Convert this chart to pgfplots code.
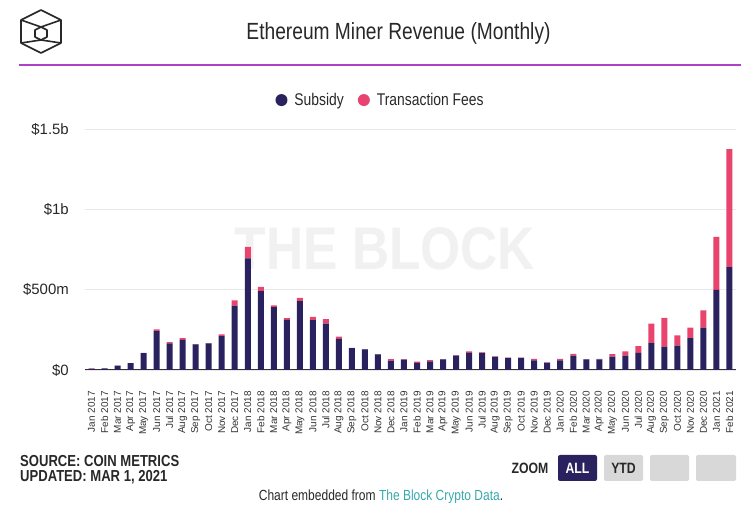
\documentclass[border=0pt]{standalone}
\usepackage{pgfplots}
\usepackage{pgfplotstable}
\pgfplotsset{compat=1.18}
\usepackage{graphicx}
\usepackage{fontspec}
\setmainfont{Liberation Sans}
\newfontfamily\cond[FakeStretch=0.82]{Liberation Sans}
\definecolor{sub}{RGB}{42,34,94}
\definecolor{fee}{RGB}{232,68,110}
\definecolor{gridc}{RGB}{232,232,232}
\definecolor{txt}{RGB}{40,40,40}
\definecolor{wm}{RGB}{241,241,241}
\definecolor{btn}{RGB}{216,216,216}
\definecolor{teal}{RGB}{56,168,170}
\definecolor{sep}{RGB}{176,64,200}

\pgfplotstableread{
x sub fee
0 9 0.5
1 10 0.5
2 27 0.5
3 43 0.5
4 105 1
5 242 11
6 166 8
7 188 11
8 159 2
9 166 2
10 211 11
11 400 33
12 694 72
13 491 26
14 391 11
15 312 11
16 428 21
17 310 21
18 288 29
19 194 13
20 136 2
21 128 2
22 97 2
23 58 10
24 64 4
25 45 7
26 54 8
27 66 2
28 90 3
29 106 10
30 107 3
31 83 2
32 75 2
33 75 2
34 60 10
35 46 2
36 60 10
37 89 12
38 66 2
39 66 3
40 84 15
41 89 27
42 106 43
43 168 120
44 145 180
45 151 64
46 199 64
47 263 108
48 498 330
49 641 734
}\data

\begin{document}
\begin{tikzpicture}[x=1bp,y=1bp]
\begin{axis}[
  name=ax,
  width=651bp, height=241bp, scale only axis,
  axis background/.style={fill=white, path picture={
    \node[text=wm, inner sep=0pt] at ([xshift=-25.5bp, yshift=0.5bp]path picture bounding box.center) {\resizebox{300bp}{42bp}{\bfseries THE BLOCK}};}},
  xmin=-0.5, xmax=49.5, ymin=0, ymax=1500,
  ybar stacked, bar width=6bp,
  axis x line*=bottom, axis y line*=left,
  y axis line style={draw=none},
  x axis line style={draw={rgb,255:red,51;green,51;blue,51}, line width=1bp},
  ymajorgrids, grid style={gridc, line width=0.8bp},
  major tick length=0pt,
  xtick={0,...,49},
  xticklabels={Jan 2017,Feb 2017,Mar 2017,Apr 2017,May 2017,Jun 2017,Jul 2017,Aug 2017,Sep 2017,Oct 2017,Nov 2017,Dec 2017,Jan 2018,Feb 2018,Mar 2018,Apr 2018,May 2018,Jun 2018,Jul 2018,Aug 2018,Sep 2018,Oct 2018,Nov 2018,Dec 2018,Jan 2019,Feb 2019,Mar 2019,Apr 2019,May 2019,Jun 2019,Jul 2019,Aug 2019,Sep 2019,Oct 2019,Nov 2019,Dec 2019,Jan 2020,Feb 2020,Mar 2020,Apr 2020,May 2020,Jun 2020,Jul 2020,Aug 2020,Sep 2020,Oct 2020,Nov 2020,Dec 2020,Jan 2021,Feb 2021},
  xticklabel style={rotate=90, anchor=east, inner sep=0pt, font=\fontsize{10}{12}\selectfont, text={rgb,255:red,51;green,51;blue,51}},
  xticklabel shift=21bp,
  ytick={0,500,1000,1500},
  yticklabels={\$0,\$500m,\$1b,\$1.5b},
  yticklabel style={anchor=east, inner sep=0pt, font=\fontsize{15}{17}\selectfont, text=txt},
  yticklabel shift=16bp,
  legend style={at={(0.454,1.12)}, anchor=center, draw=none, fill=none, legend columns=2,
    font=\cond\fontsize{17}{20}\selectfont, text=txt,
    /tikz/every even column/.append style={column sep=12bp}},
  legend cell align=left,
]
\coordinate (SW) at (rel axis cs:0,0);
\addplot[fill=sub, draw=none, legend image code/.code={\path[draw=none,fill=none] (-6bp,-6bp) rectangle (11bp,6bp); \fill[sub] (0bp,0bp) circle (6bp);}] table[x=x,y=sub]{\data};
\addlegendentry{Subsidy}
\addplot[fill=fee, draw=none, legend image code/.code={\path[draw=none,fill=none] (-6bp,-6bp) rectangle (11bp,6bp); \fill[fee] (0bp,0bp) circle (6bp);}] table[x=x,y=fee]{\data};
\addlegendentry{Transaction Fees}
\end{axis}

\begin{scope}[shift={(SW)}, shift={(-85,-149)}]
\useasboundingbox (0,0) rectangle (751,519);
% logo
\begin{scope}[draw={rgb,255:red,40;green,40;blue,40}, line width=1.6bp, line join=round]
\draw (41,509) -- (61,499) -- (61,476) -- (41,466) -- (21,476) -- (21,499) -- cycle;
\draw (41,492) -- (47,489) -- (47,482) -- (41,479) -- (35,482) -- (35,489) -- cycle;
\draw (21,499) -- (41,492) -- (61,499);
\draw (21,476) -- (41,479) -- (61,476);
\end{scope}
% title
\node[font=\cond\fontsize{23.5}{27}\selectfont, text=txt] at (398.5,486) {Ethereum Miner Revenue (Monthly)};
\draw[sep, line width=1.3bp] (19,454) -- (741,454);
% footer
\node[anchor=west, inner sep=0pt, font=\cond\bfseries\fontsize{16}{18}\selectfont, text=txt] at (20,58) {SOURCE: COIN METRICS};
\node[anchor=west, inner sep=0pt, font=\cond\bfseries\fontsize{16}{18}\selectfont, text=txt] at (20,42) {UPDATED: MAR 1, 2021};
\node[anchor=center, inner sep=0pt, font=\cond\bfseries\fontsize{15}{18}\selectfont, text=txt] at (530,51) {ZOOM};
\fill[sub, rounded corners=2bp] (558,38) rectangle (597,64);
\node[font=\cond\bfseries\fontsize{15}{18}\selectfont, text=white] at (577.5,51) {ALL};
\fill[btn, rounded corners=2bp] (604,38) rectangle (643,64);
\node[font=\cond\bfseries\fontsize{15}{18}\selectfont, text=txt] at (623.5,51) {YTD};
\fill[btn, rounded corners=2bp] (650,38) rectangle (689,64);
\fill[btn, rounded corners=2bp] (696,38) rectangle (736,64);
\node[font=\cond\fontsize{14.7}{17}\selectfont, text=txt] at (381,22) {Chart embedded from \textcolor{teal}{The Block Crypto Data}.};
\end{scope}
\end{tikzpicture}
\end{document}
